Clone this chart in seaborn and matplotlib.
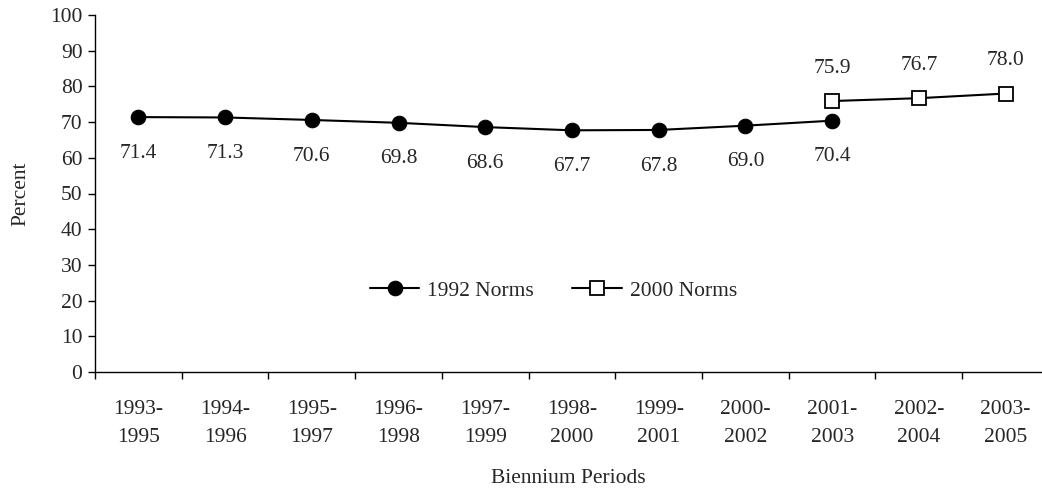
import numpy as np
import pandas as pd
import seaborn as sns
import matplotlib.pyplot as plt
from matplotlib.ticker import FixedLocator

# Data
periods = ['1993-\n1995', '1994-\n1996', '1995-\n1997', '1996-\n1998', '1997-\n1999',
           '1998-\n2000', '1999-\n2001', '2000-\n2002', '2001-\n2003', '2002-\n2004',
           '2003-\n2005']
norms_1992 = [71.4, 71.3, 70.6, 69.8, 68.6, 67.7, 67.8, 69.0, 70.4]
norms_2000 = [75.9, 76.7, 78.0]

pos = np.arange(len(periods))
df92 = pd.DataFrame({'pos': pos[:len(norms_1992)], 'pct': norms_1992})
df00 = pd.DataFrame({'pos': pos[-len(norms_2000):], 'pct': norms_2000})

sns.set_style('ticks')
plt.rcParams['font.family'] = ['Liberation Serif', 'DejaVu Serif']
fs = 15.5

fig = plt.figure(figsize=(10.42, 4.88), dpi=100)
ax = fig.add_axes([95 / 1042, 1 - 372 / 488, 1 - 95 / 1042, (372 - 15) / 488])

sns.lineplot(data=df92, x='pos', y='pct', ax=ax, color='black', lw=1.5,
             marker='o', markersize=10.5, markerfacecolor='black',
             markeredgecolor='black', label='1992 Norms')
sns.lineplot(data=df00, x='pos', y='pct', ax=ax, color='black', lw=1.5,
             marker='s', markersize=10.5, markerfacecolor='white',
             markeredgecolor='black', markeredgewidth=1.3, label='2000 Norms')

# value labels
for x, y in zip(df92['pos'], df92['pct']):
    ax.annotate(f'{y:.1f}', (x, y), xytext=(0, -26), textcoords='offset points',
                ha='center', va='center', fontsize=fs)
for x, y in zip(df00['pos'], df00['pct']):
    ax.annotate(f'{y:.1f}', (x, y), xytext=(0, 23.5), textcoords='offset points',
                ha='center', va='center', fontsize=fs)

ax.set_ylim(0, 100)
ax.set_yticks(range(0, 101, 10))
ax.set_xlim(-0.5, 10.42)
ax.set_xticks(pos)
ax.set_xticklabels(periods, fontsize=fs, linespacing=1.65)
ax.xaxis.set_minor_locator(FixedLocator(np.arange(-0.5, len(periods), 1.0)))
ax.tick_params(axis='x', which='major', length=0, pad=20)
ax.tick_params(axis='x', which='minor', length=5, width=1, color='black', direction='out')
ax.tick_params(axis='y', length=5, width=1, color='black', direction='out', labelsize=fs, pad=4)

ax.set_xlabel('Biennium Periods', fontsize=fs, labelpad=16)
ax.set_ylabel('Percent', fontsize=fs, labelpad=14)

for s in ['top', 'right']:
    ax.spines[s].set_visible(False)
for s in ['left', 'bottom']:
    ax.spines[s].set_color('black')
    ax.spines[s].set_linewidth(1)

ax.legend(loc='center', bbox_to_anchor=(0.484, 0.227), ncol=2, frameon=False,
          fontsize=fs, handlelength=2.3, handletextpad=0.35, columnspacing=1.8)

fig.savefig('out.png', dpi=100)
